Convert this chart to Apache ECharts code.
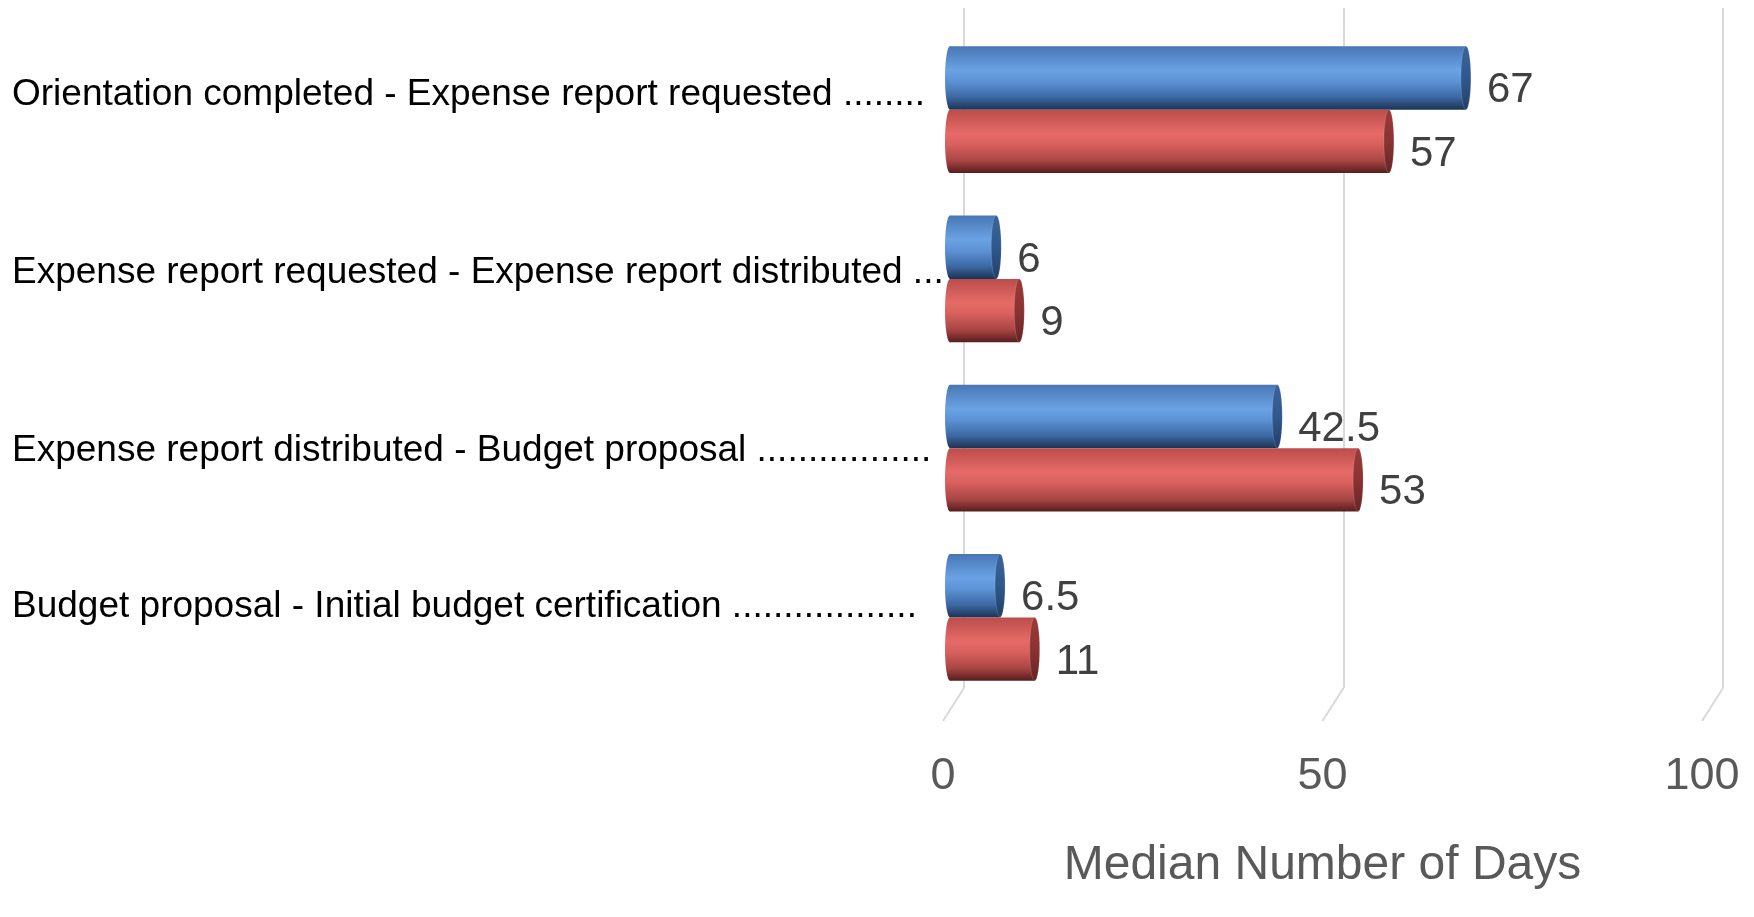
<!DOCTYPE html>
<html>
<head>
<meta charset="utf-8">
<script src="https://cdn.jsdelivr.net/npm/echarts@6/dist/echarts.min.js"></script>
<style>
html,body{margin:0;padding:0;background:#fff;}
#chart{width:1754px;height:917px;}
</style>
</head>
<body>
<div id="chart"></div>
<script>
// ---- data ----
var categories = [
  'Orientation completed - Expense report requested ........',
  'Expense report requested - Expense report distributed ...',
  'Expense report distributed - Budget proposal .................',
  'Budget proposal - Initial budget certification ..................'
];
var seriesBlue = [67, 6, 42.5, 6.5];
var seriesRed = [57, 9, 53, 11];
var axisTicks = [0, 50, 100];
var labelShift = [-15, -6, 3, -11]; // vertical nudge of category labels

var FONT = '"Liberation Sans", Arial, sans-serif';
var BAR_RATIO = 63.5 / 169.3;

var styles = {
  blue: {
    body: [[0, '#4876b4'], [0.38, '#6aa2e4'], [0.55, '#5d93d6'], [0.8, '#3d69a4'], [1, '#1c3354']],
    cap: [[0, '#3a649c'], [0.5, '#30588c'], [1, '#223f66']]
  },
  red: {
    body: [[0, '#bb4d4a'], [0.38, '#e66b68'], [0.55, '#d8605d'], [0.8, '#a94644'], [1, '#561d1d']],
    cap: [[0, '#9a3b39'], [0.5, '#8a3331'], [1, '#652524']]
  }
};

function grad(stops) {
  return new echarts.graphic.LinearGradient(0, 0, 0, 1, stops.map(function (s) {
    return { offset: s[0], color: s[1] };
  }));
}

function makeCylinder(style, side) {
  return function (params, api) {
    var cat = api.value(0), val = api.value(1);
    var p0 = api.coord([0, cat]);
    var p1 = api.coord([val, cat]);
    var band = api.size([0, 1])[1];
    var h = band * BAR_RATIO;
    var yTop = side === 0 ? p0[1] - h : p0[1];
    var yc = yTop + h / 2;
    var x0 = p0[0], x1 = p1[0];
    var rx = 5;
    var ry = h / 2;
    return {
      type: 'group',
      children: [
        { // left rounded end
          type: 'circle',
          shape: { cx: 0, cy: 0, r: ry },
          x: x0, y: yc, scaleX: rx / ry,
          style: { fill: grad(style.body) }
        },
        {
          type: 'rect',
          shape: { x: x0, y: yTop, width: Math.max(x1 - x0, 0), height: h },
          style: { fill: grad(style.body) }
        },
        { // right cap face
          type: 'circle',
          shape: { cx: 0, cy: 0, r: ry },
          x: x1, y: yc, scaleX: rx / ry,
          style: { fill: grad(style.cap), stroke: 'rgba(255,255,255,0.25)', lineWidth: 1 }
        },
        {
          type: 'text',
          x: x1 + rx + 16, y: yc + 13,
          style: {
            text: String(val), fill: '#404040', font: '42px ' + FONT,
            align: 'left', verticalAlign: 'middle'
          }
        }
      ]
    };
  };
}

function toData(arr) {
  return arr.map(function (v, i) { return [i, v]; });
}

var rich = {};
labelShift.forEach(function (d, i) {
  rich['s' + i] = {
    color: '#000000', fontSize: 37, fontFamily: FONT,
    padding: d < 0 ? [0, 0, -2 * d, 0] : [2 * d, 0, 0, 0]
  };
});

var chart = echarts.init(document.getElementById('chart'));
chart.setOption({
  backgroundColor: '#ffffff',
  animation: false,
  grid: [
    { left: 950, width: 770, top: 25, height: 677, outerBoundsMode: 'none', containLabel: false },
    { left: 964, width: 759, top: 8, height: 680, outerBoundsMode: 'none', containLabel: false }
  ],
  xAxis: [
    { gridIndex: 0, type: 'value', min: 0, max: 100, interval: 50,
      show: false },
    { gridIndex: 1, type: 'value', min: axisTicks[0], max: axisTicks[axisTicks.length - 1], interval: 50,
      axisLine: { show: false }, axisTick: { show: false },
      splitLine: { show: true, lineStyle: { color: '#d9d9d9', width: 2 } },
      axisLabel: { margin: 89, verticalAlign: 'middle', color: '#595959',
        fontSize: 45, fontFamily: FONT, padding: [0, 42, 0, 0] },
      name: 'Median Number of Days', nameLocation: 'middle', nameGap: 178,
      nameTextStyle: { color: '#595959', fontSize: 48, fontFamily: FONT,
        verticalAlign: 'middle', padding: [0, 42, 0, 0] }
    }
  ],
  yAxis: [
    { gridIndex: 0, type: 'category', inverse: true,
      data: categories,
      axisLine: { show: false }, axisTick: { show: false }, splitLine: { show: false },
      axisLabel: { align: 'left', margin: 938, color: '#000000', fontSize: 37,
        fontFamily: FONT, verticalAlign: 'middle',
        formatter: function (v, i) { return '{s' + i + '|' + v + '}'; },
        rich: rich }
    },
    { gridIndex: 1, type: 'value', min: 0, max: 1, show: false }
  ],
  series: [
    { // floor ticks (perspective)
      type: 'custom', xAxisIndex: 1, yAxisIndex: 1, silent: true,
      data: axisTicks.map(function (t) { return [t, 0]; }),
      renderItem: function (params, api) {
        var p = api.coord([api.value(0), 0]);
        return { type: 'line', shape: { x1: p[0], y1: p[1], x2: p[0] - 21, y2: p[1] + 33 },
          style: { stroke: '#d9d9d9', lineWidth: 2 } };
      }
    },
    { name: 'Series 1', type: 'custom', xAxisIndex: 0, yAxisIndex: 0,
      encode: { x: 1, y: 0 }, data: toData(seriesBlue),
      renderItem: makeCylinder(styles.blue, 0) },
    { name: 'Series 2', type: 'custom', xAxisIndex: 0, yAxisIndex: 0,
      encode: { x: 1, y: 0 }, data: toData(seriesRed),
      renderItem: makeCylinder(styles.red, 1) }
  ]
});
</script>
</body>
</html>
